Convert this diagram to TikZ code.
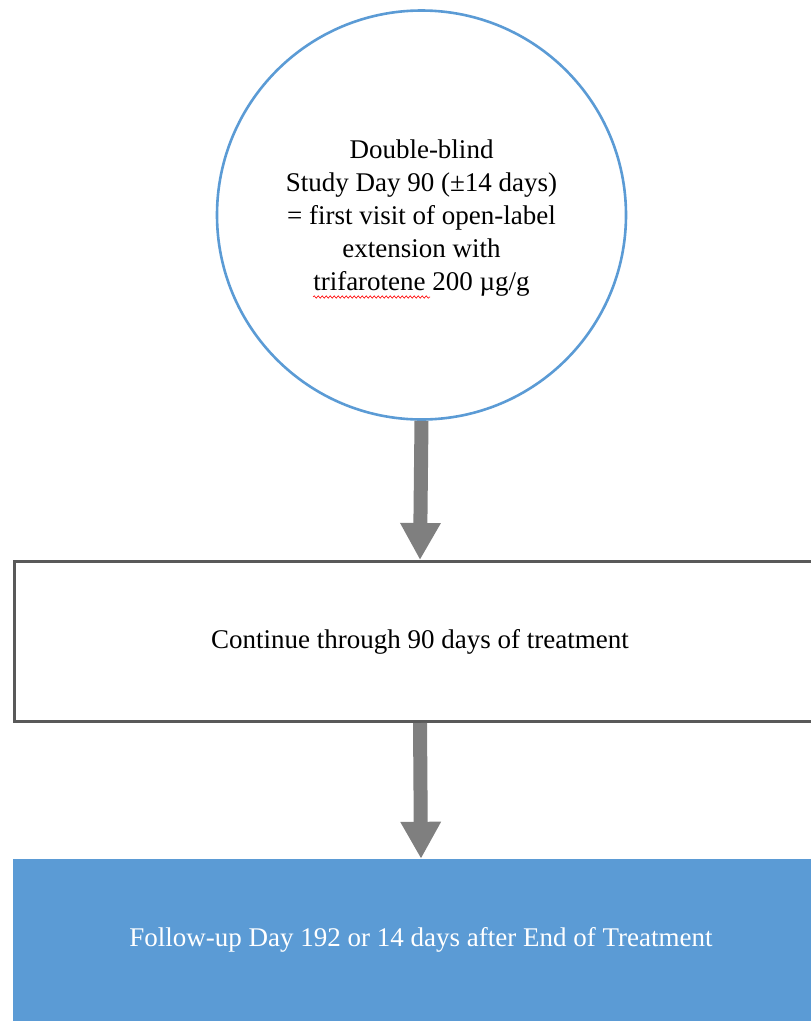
\documentclass[tikz,border=0pt]{standalone}
\usepackage{fontspec}
\setmainfont{Liberation Serif}
\usetikzlibrary{arrows.meta,decorations.pathmorphing}
\definecolor{officeblue}{HTML}{5B9BD5}
\definecolor{arrowgray}{HTML}{7F7F7F}
\definecolor{boxgray}{HTML}{595959}
\begin{document}
\begin{tikzpicture}[x=1pt,y=-1pt,
  txt/.style={font=\fontsize{27}{33}\selectfont, align=center},
  bigcircle/.style={circle, draw=officeblue, line width=2.6pt, minimum size=409pt, inner sep=0pt},
  whitebox/.style={rectangle, draw=boxgray, line width=3pt, minimum width=812pt, minimum height=160pt, inner sep=0pt},
  bluebox/.style={rectangle, fill=officeblue, draw=none, minimum width=816pt, minimum height=162pt, inner sep=0pt, text=white},
  flowarrow/.style={draw=arrowgray, line width=14pt, -{Triangle[width=38pt,length=37pt]}, arrowgray}
]
\useasboundingbox (0,0) rectangle (811,1021);
\node[bigcircle] (c) at (421.5,215) {};
\node[txt] (ct) at (421.5,218) {Double-blind\\Study Day 90 (±14 days)\\= first visit of open-label\\extension with\\trifarotene 200 µg/g};
\node[whitebox, txt] (b2) at (420,641.5) {Continue through 90 days of treatment};
\node[bluebox, txt] (b3) at (421,940) {Follow-up Day 192 or 14 days after End of Treatment};
\draw[flowarrow] (c.south) -- (b2.north);
\draw[flowarrow] (b2.south) -- (b3.north);
\draw[red, line width=0.6pt, decorate, decoration={snake, amplitude=1.2pt, segment length=4pt}] (313,297) -- (430,297);
\end{tikzpicture}
\end{document}
